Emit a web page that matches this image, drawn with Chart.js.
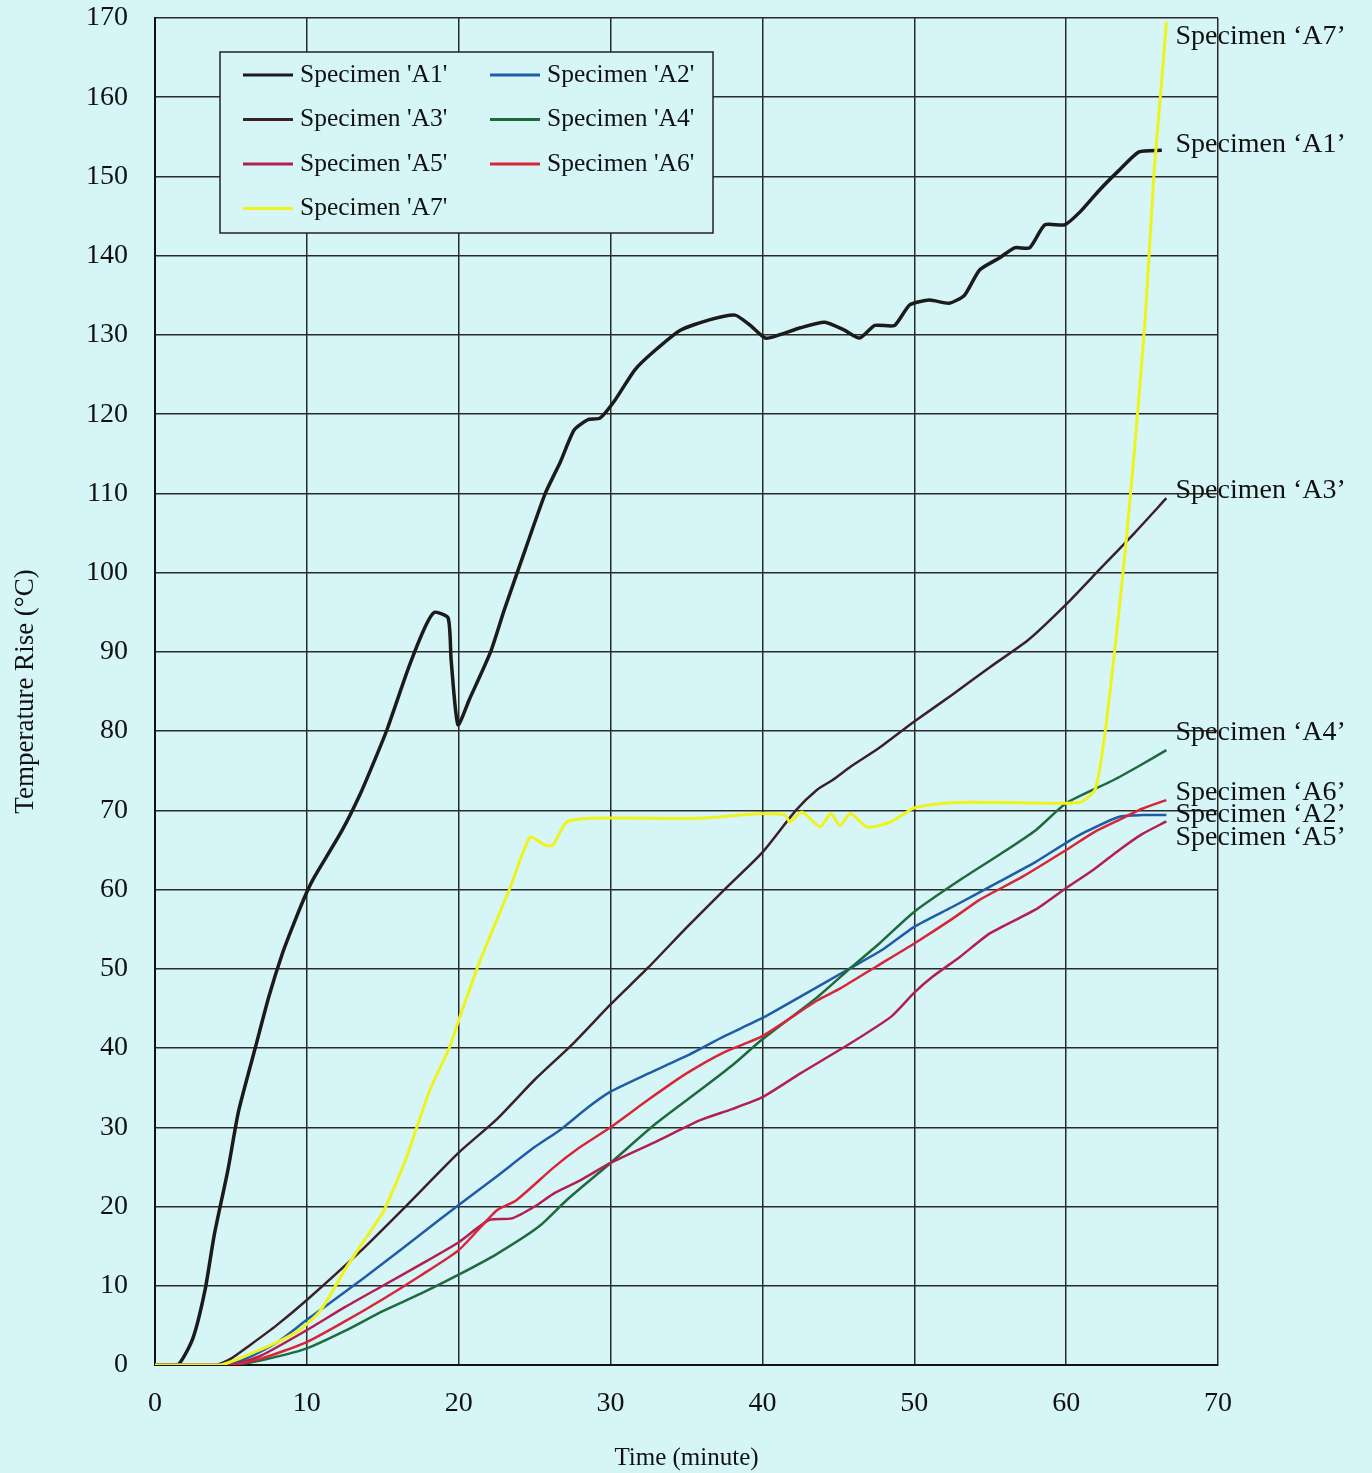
<!DOCTYPE html>
<html>
<head>
<meta charset="utf-8">
<script src="https://cdn.jsdelivr.net/npm/chart.js@4.4.0/dist/chart.umd.min.js"></script>
<style>
  html, body { margin: 0; padding: 0; background: #d6f5f7; }
  #wrap { width: 1372px; height: 1473px; }
</style>
</head>
<body>
<div id="wrap"><canvas id="temp-chart"></canvas></div>
<script>
// [time (minute), temperature rise (degC)]
const specA1 = [[0,0],[1.5,0],[2.5,3.4],[3.3,9.5],[3.9,16.4],[4.8,24.6],[5.5,32],[6.6,40],[7.5,46.5],[8.4,52],[9.2,56],[10,59.7],[10.5,61.6],[12.3,67.4],[13.5,72],[14.5,76.5],[15.3,80.3],[16.7,88],[17.8,93.2],[18.4,95],[19.3,94.3],[19.5,89],[19.95,80.8],[20.7,84],[22.1,90],[23,95.3],[24.4,103],[25.7,110],[26.7,114],[27.6,118],[28.5,119.3],[29.3,119.5],[30.3,121.8],[31.6,125.6],[32.9,128],[34.6,130.6],[36.5,131.9],[38.2,132.5],[39.2,131.2],[40.2,129.6],[41.1,130],[42.5,130.9],[44.1,131.6],[45.4,130.6],[46.4,129.6],[47.4,131.2],[48.7,131.2],[49.7,133.8],[51,134.4],[52.3,134],[53.3,135],[54.3,138.2],[55.6,139.7],[56.6,141],[57.6,141],[58.6,143.9],[59.9,143.9],[60.9,145.5],[62.2,148.3],[63.5,150.8],[64.8,153.1],[66.3,153.3]];
const specA2 = [[0,0],[4.5,0],[6,0.8],[8,2.8],[10,5.7],[12.5,9.2],[15,12.8],[17.5,16.5],[20,20.2],[22.5,23.8],[25,27.5],[26.7,29.7],[28.5,32.5],[30,34.5],[32.5,36.8],[35,39],[37.5,41.5],[40,43.8],[42.5,46.5],[45.8,50.1],[47.9,52.4],[50,55.3],[52.5,57.8],[55.6,61],[58,63.5],[60,65.9],[61.3,67.3],[63.5,69.2],[65,69.4],[66.6,69.4]];
const specA3 = [[0,0],[4,0],[5,0.8],[6.25,2.5],[8,5],[10,8.2],[13.5,14.3],[16.5,20],[20,26.8],[22.5,31],[25,36],[27.5,40.5],[30,45.5],[32.5,50.2],[35,55.2],[37.5,60],[40,64.7],[42.2,70],[43.6,72.6],[44.6,73.8],[45.8,75.5],[47.7,77.9],[50,81.2],[52.5,84.6],[55,88.1],[57.5,91.5],[60,96],[62.2,100.4],[64.5,105],[66.6,109.4]];
const specA4 = [[0,0],[5,0],[7,0.6],[10,2.1],[12.5,4.3],[15,6.8],[17.5,9],[20,11.4],[22.5,14],[25.3,17.5],[27.1,20.8],[30,25.5],[33,30.5],[35.9,34.7],[38,37.8],[40,41.1],[43.6,46.4],[45.8,50.1],[47.7,53.2],[50,57.2],[53,61.2],[55.6,64.4],[58,67.5],[60,70.9],[63.1,73.8],[64.8,75.6],[66.6,77.6]];
const specA5 = [[0,0],[5,0],[7,1.2],[10,4.4],[12.5,7.3],[15,10],[17.5,12.7],[20,15.5],[22,18.3],[23.5,18.5],[25,20],[26.3,21.7],[28,23.3],[30,25.5],[33,28.2],[35.9,30.9],[38,32.3],[40,33.8],[42.5,36.8],[45.8,40.6],[48.5,44],[50,47],[51.2,49],[53,51.5],[55,54.5],[58,57.5],[60,60.2],[61.8,62.5],[63.5,65],[65,67],[66.6,68.6]];
const specA6 = [[0,0],[5,0],[7,0.8],[10,2.9],[12.5,5.5],[15,8.3],[17.5,11.3],[20,14.5],[22.5,19.5],[23.8,20.8],[26.3,25],[28,27.5],[30,30],[32.5,33.5],[35,36.8],[37.5,39.5],[40,41.5],[43.6,46],[45.1,47.5],[47.5,50.3],[50,53.2],[52.5,56.3],[54.3,58.7],[57.1,61.6],[60,65],[61.8,67.2],[63.5,68.8],[65,70.2],[66.6,71.3]];
const specA7 = [[0,0],[4.3,0],[6.9,1.9],[9.5,4.4],[10.9,6.9],[12.5,12],[13.8,15.8],[15.1,19.6],[16.5,25.9],[18.1,34.7],[19.4,40.1],[20,43.5],[21.4,51],[23.4,60.3],[24.7,66.6],[25.7,65.6],[26.2,65.6],[27.1,68.5],[28.8,69],[35.9,69],[40,69.6],[41.5,69.4],[41.8,68.5],[42.6,69.8],[43.8,67.9],[44.5,69.6],[45.1,68.1],[45.8,69.6],[46.9,67.9],[48.4,68.5],[50,70.3],[51.5,70.8],[53,71],[55.6,71],[60.9,71],[61.9,72.6],[62.5,78.9],[63.2,90.2],[63.9,102.9],[64.5,115.5],[65.2,131.9],[65.8,150.8],[66.3,162.2],[66.6,169.5]];

const seriesNames = ["Specimen 'A1'", "Specimen 'A2'", "Specimen 'A3'", "Specimen 'A4'", "Specimen 'A5'", "Specimen 'A6'", "Specimen 'A7'"];
const seriesColors = ['#1b1b1b', '#1f5ca6', '#3b2029', '#1d6a3c', '#b31f4e', '#d72638', '#eef31e'];
const seriesWidths = [3.5, 2.5, 2.5, 2.5, 2.5, 2.5, 3];
const xTicks = [0, 10, 20, 30, 40, 50, 60, 70];

// labels at the right end of the curves
const endLabels = ["Specimen \u2018A7\u2019", "Specimen \u2018A1\u2019", "Specimen \u2018A3\u2019", "Specimen \u2018A4\u2019", "Specimen \u2018A6\u2019", "Specimen \u2018A2\u2019", "Specimen \u2018A5\u2019"];
const endLabelY = [167.6, 154.0, 110.4, 79.8, 72.2, 69.4, 66.6];

const serif = '"Liberation Serif", "Times New Roman", serif';
const allSeries = [specA1, specA2, specA3, specA4, specA5, specA6, specA7];

const endLabelPlugin = {
  id: 'endLabels',
  afterDraw(chart) {
    const ctx = chart.ctx;
    const xs = chart.scales.x, ys = chart.scales.y;
    ctx.save();
    ctx.font = '28px ' + serif;
    ctx.fillStyle = '#111';
    ctx.textBaseline = 'middle';
    endLabels.forEach((txt, i) => {
      ctx.fillText(txt, xs.getPixelForValue(67.2), ys.getPixelForValue(endLabelY[i]));
    });
    ctx.restore();
  }
};

const boxLegendPlugin = {
  id: 'boxLegend',
  afterDraw(chart) {
    const ctx = chart.ctx;
    const a = chart.chartArea;
    const bx = a.left + 65, by = a.top + 34, bw = 493, bh = 181;
    ctx.save();
    ctx.fillStyle = '#d6f5f7';
    ctx.fillRect(bx, by, bw, bh);
    ctx.strokeStyle = '#222';
    ctx.lineWidth = 1.5;
    ctx.strokeRect(bx, by, bw, bh);
    ctx.font = '25.5px ' + serif;
    ctx.textBaseline = 'middle';
    seriesNames.forEach((name, i) => {
      const col = i % 2, row = Math.floor(i / 2);
      const lx = bx + 23 + col * 247;
      const ly = by + 23 + row * 44.5;
      ctx.strokeStyle = seriesColors[i];
      ctx.lineWidth = 3;
      ctx.beginPath();
      ctx.moveTo(lx, ly);
      ctx.lineTo(lx + 50, ly);
      ctx.stroke();
      ctx.fillStyle = '#111';
      ctx.fillText(name, lx + 57, ly);
    });
    ctx.restore();
  }
};

const ctx = document.getElementById('temp-chart');

new Chart(ctx, {
  type: 'line',
  data: {
    datasets: allSeries.map((pts, i) => ({
      label: seriesNames[i],
      data: pts.map(p => ({ x: p[0], y: p[1] })),
      borderColor: seriesColors[i],
      borderWidth: seriesWidths[i],
      pointRadius: 0,
      tension: 0.2,
      fill: false,
    })).reverse()
  },
  options: {
    responsive: true,
    maintainAspectRatio: false,
    animation: false,
    layout: { padding: { top: 18, right: 154 } },
    plugins: {
      legend: { display: false },
      tooltip: { enabled: false },
    },
    scales: {
      x: {
        type: 'linear',
        min: 0,
        max: 70,
        afterBuildTicks: (scale) => { scale.ticks = xTicks.map(v => ({ value: v })); },
        afterFit: (scale) => { scale.height = 108; scale.paddingLeft = 0; scale.paddingRight = 0; },
        ticks: {
          font: { family: serif, size: 28 },
          color: '#111',
          padding: 22,
        },
        grid: { color: '#2a2a2a', lineWidth: 1.5, drawTicks: false },
        border: { color: '#111', width: 2 },
        title: {
          display: true,
          text: 'Time (minute)',
          font: { family: serif, size: 25 },
          color: '#111',
          padding: { top: 20, bottom: 0 },
        },
      },
      y: {
        min: 0,
        max: 170,
        afterFit: (scale) => { scale.width = 155; scale.paddingTop = 0; scale.paddingBottom = 0; },
        ticks: {
          stepSize: 10,
          font: { family: serif, size: 28 },
          color: '#111',
          padding: 27,
        },
        grid: { color: '#2a2a2a', lineWidth: 1.5, drawTicks: false },
        border: { color: '#111', width: 2 },
        title: {
          display: true,
          text: 'Temperature Rise (\u00B0C)',
          font: { family: serif, size: 27 },
          color: '#111',
          padding: { top: 10, bottom: 0 },
        },
      },
    },
  },
  plugins: [boxLegendPlugin, endLabelPlugin],
});
</script>
</body>
</html>
